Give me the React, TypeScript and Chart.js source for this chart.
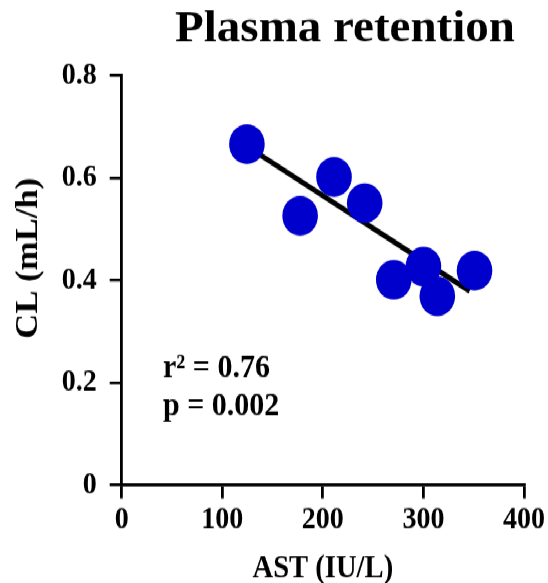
import React, { useEffect, useRef } from "react";
import { Chart, registerables } from "chart.js";

Chart.register(...registerables);

// ---- data ----
const astValues = [124.5, 177.4, 211.1, 241.6, 270.5, 300.0, 313.8, 350.8];
const clValues = [0.666, 0.526, 0.602, 0.551, 0.401, 0.427, 0.369, 0.419];
const fitX = [124.5, 346];
const fitY = [0.662, 0.379];
const xTicks = [0, 100, 200, 300, 400];
const yTicks = [0, 0.2, 0.4, 0.6, 0.8];
const chartTitle = "Plasma retention";
const xTitle = "AST (IU/L)";
const yTitle = "CL (mL/h)";
const statLines = ["r\u00B2 = 0.76", "p = 0.002"];

const FONT = '"Liberation Serif", "Times New Roman", serif';
const W = 548;
const H = 583;
const SY = 1.119; // the reference is stretched vertically
const HN = Math.round(H / SY); // native canvas height

const textPlugin = {
  id: "texts",
  afterDraw(chart: any) {
    const ctx = chart.ctx as CanvasRenderingContext2D;
    const area = chart.chartArea;
    ctx.save();
    ctx.fillStyle = "#000";
    ctx.textAlign = "center";
    ctx.textBaseline = "alphabetic";

    ctx.save();
    ctx.translate(345, 37);
    ctx.scale(1, 0.87);
    ctx.font = `bold 47px ${FONT}`;
    ctx.fillText(chartTitle, 0, 0);
    ctx.restore();

    ctx.font = `bold 28.6px ${FONT}`;
    ctx.fillText(xTitle, (area.left + area.right) / 2, 516);

    ctx.save();
    ctx.translate(36.7, 230.8);
    ctx.rotate(-Math.PI / 2);
    ctx.font = `bold 31px ${FONT}`;
    ctx.fillText(yTitle, 0, 0);
    ctx.restore();

    ctx.textAlign = "left";
    ctx.font = `bold 30px ${FONT}`;
    ctx.fillText(statLines[0], 163, 336.6);
    ctx.fillText(statLines[1], 163, 371);
    ctx.restore();
  },
};

export default function App() {
  const ref = useRef<HTMLCanvasElement | null>(null);
  useEffect(() => {
    if (!ref.current) return;
    const chart = new Chart(ref.current, {
      type: "scatter",
      data: {
        datasets: [
          {
            type: "scatter",
            data: astValues.map((x, i) => ({ x, y: clValues[i] })),
            pointStyle: "circle",
            pointRadius: 17.8,
            backgroundColor: "#0000CC",
            borderColor: "#0000CC",
            borderWidth: 0,
            order: 0,
            clip: false as any,
          },
          {
            type: "line",
            data: fitX.map((x, i) => ({ x, y: fitY[i] })),
            borderColor: "#000",
            borderWidth: 4.8,
            pointRadius: 0,
            fill: false,
            order: 1,
          } as any,
        ],
      },
      options: {
        responsive: false,
        animation: false,
        layout: { padding: { left: 0, top: 67.65, right: 19.7, bottom: 0 } },
        plugins: {
          legend: { display: false },
          tooltip: { enabled: false },
          title: { display: false },
        },
        scales: {
          x: {
            type: "linear",
            min: 0,
            max: 400,
            afterBuildTicks: (s: any) => {
              s.ticks = xTicks.map((v) => ({ value: v }));
            },
            afterFit: (s: any) => {
              s.height = HN - 433.4;
            },
            grid: {
              drawOnChartArea: false,
              drawTicks: true,
              tickLength: 12,
              lineWidth: 2.8,
              color: "#000",
            },
            border: { display: true, width: 2.8, color: "#000" },
            ticks: {
              color: "#000",
              font: { family: FONT, size: 28, weight: "bold" },
              padding: 3,
              maxRotation: 0,
              autoSkip: false,
              callback: (v: any) => String(v),
            },
          },
          y: {
            type: "linear",
            min: 0,
            max: 0.8,
            afterBuildTicks: (s: any) => {
              s.ticks = yTicks.map((v) => ({ value: v }));
            },
            afterFit: (s: any) => {
              s.width = 121.7;
            },
            grid: {
              drawOnChartArea: false,
              drawTicks: true,
              tickLength: 12,
              lineWidth: 2.5,
              color: "#000",
            },
            border: { display: true, width: 2.8, color: "#000" },
            ticks: {
              color: "#000",
              font: { family: FONT, size: 28, weight: "bold" },
              padding: 13,
              autoSkip: false,
              callback: (v: any) => (v === 0 ? "0" : Number(v).toFixed(1)),
            },
          },
        },
      },
      plugins: [textPlugin],
    });
    return () => chart.destroy();
  }, []);
  return (
    <div
      style={{
        position: "absolute",
        left: 0,
        top: 0,
        width: W,
        height: HN,
        background: "#fff",
        transform: `scaleY(${H / HN})`,
        transformOrigin: "0 0",
      }}
    >
      <canvas ref={ref} width={W} height={HN} style={{ width: W, height: HN, display: "block" }} />
    </div>
  );
}
